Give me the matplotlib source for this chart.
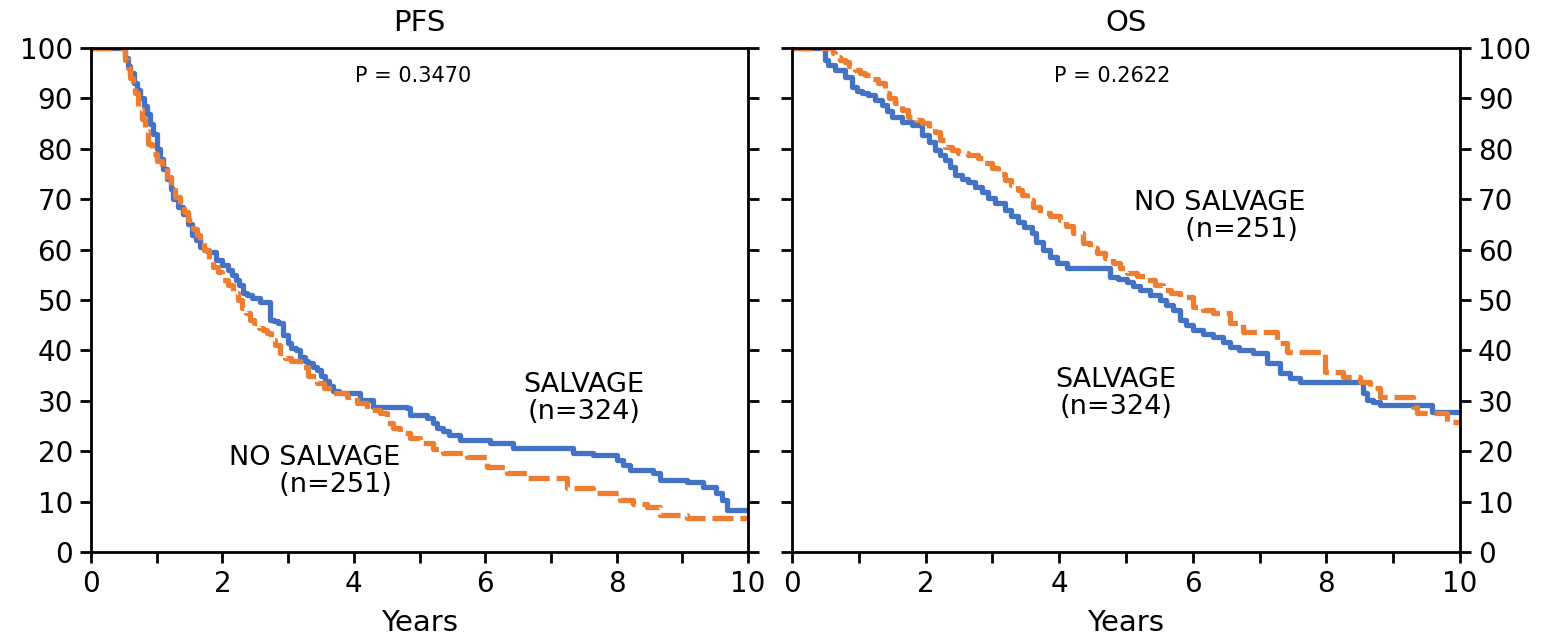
import matplotlib.pyplot as plt
import numpy as np

# step points (years, % surviving) read per arm
pfs_salvage_t = [0, 0.52, 0.56, 0.6, 0.65, 0.7, 0.75, 0.8, 0.85, 0.9, 0.95, 1.0, 1.05, 1.1, 1.16,
                 1.21, 1.25, 1.32, 1.4, 1.47, 1.54, 1.6, 1.66, 1.72, 1.78, 1.9, 2.0, 2.08, 2.14,
                 2.2, 2.25, 2.31, 2.38, 2.45, 2.57, 2.72, 2.78, 2.85, 2.92, 3.0, 3.05, 3.12, 3.18,
                 3.25, 3.3, 3.38, 3.44, 3.5, 3.56, 3.62, 3.68, 3.78, 3.9, 4.09, 4.29, 4.81, 4.86,
                 5.11, 5.2, 5.27, 5.35, 5.45, 5.62, 6.07, 6.42, 7.34, 7.64, 8.0, 8.1, 8.2, 8.55,
                 8.66, 9.07, 9.32, 9.52, 9.6, 9.68, 10]
pfs_salvage_s = [100, 98, 96.5, 95, 93, 91.7, 90, 88.5, 87, 85, 83, 80, 78, 76, 74,
                 72, 70, 68.5, 67, 65, 63, 62, 60.5, 60, 59.5, 58, 57, 56, 55,
                 54, 53, 51.4, 51, 50.5, 49.6, 46, 45.8, 45.4, 43, 41.5, 40.5, 40, 38.7,
                 38, 37.5, 36.8, 36.1, 35, 34, 33, 32, 31.6, 31.5, 30.2, 28.8, 28.6, 27.2,
                 26.6, 25.6, 24.6, 24, 23.2, 22.2, 21.6, 20.6, 19.6, 19.2, 18.3, 17.3, 16.3, 15.7,
                 14.3, 13.9, 12.9, 11.7, 10.3, 8.3, 8.3]

pfs_nosalv_t = [0, 0.52, 0.56, 0.6, 0.64, 0.67, 0.72, 0.78, 0.82, 0.87, 0.93, 1.0, 1.08, 1.15,
                1.22, 1.28, 1.35, 1.42, 1.48, 1.55, 1.62, 1.66, 1.72, 1.8, 1.86, 1.93, 2.0, 2.08,
                2.16, 2.23, 2.3, 2.36, 2.42, 2.48, 2.55, 2.62, 2.68, 2.74, 2.8, 2.88, 2.96, 3.05,
                3.18, 3.3, 3.44, 3.55, 3.68, 3.9, 4.05, 4.2, 4.4, 4.5, 4.6, 4.7, 4.85, 5.0,
                5.2, 5.36, 5.72, 6.03, 6.33, 6.64, 7.24, 7.64, 8.05, 8.25, 8.46, 8.66, 9.07, 10]
pfs_nosalv_s = [100, 97.6, 96, 94, 92.5, 91, 88, 86, 83.5, 81, 79, 77.5, 76.4, 74.5,
                72.5, 70.4, 69, 67.5, 65.9, 64, 63, 61.9, 60, 58, 56.5, 55.5, 54, 53,
                51.4, 50, 48.5, 47.5, 46, 45.5, 44.5, 44, 43.5, 42, 41, 39.5, 38.5, 38,
                36.7, 35, 33.5, 32.5, 31.5, 30.8, 29.6, 28.2, 27.6, 25.6, 24.6, 23.6, 22.6, 21.6,
                20.5, 19.6, 18.9, 16.9, 15.7, 14.7, 12.7, 11.7, 10.3, 9.6, 8.9, 7.3, 6.7, 6.7]

os_salvage_t = [0, 0.49, 0.54, 0.64, 0.79, 0.9, 0.97, 1.05, 1.14, 1.25, 1.35, 1.42, 1.5, 1.65,
                1.8, 1.95, 2.05, 2.14, 2.22, 2.29, 2.36, 2.44, 2.54, 2.63, 2.74, 2.84, 2.94,
                3.04, 3.19, 3.28, 3.38, 3.48, 3.59, 3.66, 3.76, 3.86, 3.97, 4.12, 4.76, 4.88,
                5.01, 5.11, 5.21, 5.36, 5.51, 5.6, 5.7, 5.81, 5.9, 6.0, 6.15, 6.3, 6.45, 6.56,
                6.7, 6.9, 7.11, 7.31, 7.45, 7.6, 8.55, 8.61, 8.7, 8.8, 9.58, 10]
os_salvage_s = [100, 97.6, 96.6, 95.6, 94.2, 92.3, 91.5, 91, 90.7, 89.7, 88.7, 87.5, 86.3, 85.3,
                84.7, 82.7, 81.3, 79.8, 78.8, 77.8, 76.3, 74.8, 74, 73.4, 72.4, 71.4, 70.3,
                69.2, 67.9, 66.7, 65.5, 64.4, 63.3, 61.6, 59.9, 58.6, 57.3, 56.3, 54.6, 54.2,
                53.6, 52.8, 52, 51, 50, 49, 48, 46, 45, 44, 43.3, 42.7, 41.7, 40.7,
                40, 39.5, 37.5, 35.5, 34.6, 33.7, 31.5, 30.2, 29.7, 29.2, 27.8, 27.8]

os_nosalv_t = [0, 0.61, 0.64, 0.72, 0.79, 0.86, 0.94, 1.02, 1.09, 1.2, 1.29, 1.39, 1.46, 1.54,
               1.64, 1.74, 1.85, 1.95, 2.05, 2.14, 2.22, 2.29, 2.39, 2.49, 2.63, 2.78, 2.88,
               2.99, 3.09, 3.19, 3.28, 3.38, 3.45, 3.52, 3.61, 3.71, 3.86, 4.01, 4.11, 4.21,
               4.36, 4.46, 4.57, 4.69, 4.81, 4.91, 5.01, 5.16, 5.31, 5.43, 5.55, 5.68, 5.81,
               6.0, 6.15, 6.3, 6.56, 6.75, 7.26, 7.41, 7.98, 8.25, 8.5, 8.65, 8.8, 9.3,
               9.36, 9.8, 10]
os_nosalv_s = [100, 99, 98.2, 97.7, 97.2, 96.4, 95.6, 95.1, 94.6, 93.8, 93, 91, 90, 89.1,
               87.7, 86.3, 85.7, 85.1, 84.2, 83.3, 81.8, 80.4, 79.8, 79.2, 78.7, 78.2, 77.2,
               76.2, 75, 73.8, 72.8, 71.8, 70.8, 69.8, 68.5, 67.3, 66.6, 65.9, 64.6, 63.3,
               61.3, 60.3, 59.3, 58.3, 57.3, 56.3, 55.4, 54.7, 54, 53, 52, 51.3, 50.6,
               48.6, 48, 47.4, 45.4, 43.7, 41.5, 39.7, 35.7, 34.7, 33.7, 32.5, 30.8, 28.8,
               27.6, 25.8, 25.8]

blue = "#4472C4"
orange = "#ED7D31"

fig = plt.figure(figsize=(15.48, 6.36), dpi=100)
ax1 = fig.add_axes([0.0588, 0.132, 0.4244, 0.7925])
ax2 = fig.add_axes([0.5116, 0.132, 0.4315, 0.7925])


def style_axis(ax, label_side):
    ax.set_xlim(0, 10)
    ax.set_ylim(0, 100)
    ax.set_xticks(np.arange(0, 11, 2))
    ax.set_xticks(np.arange(1, 10, 2), minor=True)
    ax.set_yticks(np.arange(0, 101, 10))
    for s in ax.spines.values():
        s.set_linewidth(2.0)
        s.set_color("black")
    ax.tick_params(which="both", direction="out", length=8, width=2.0,
                   labelsize=20, pad=5, left=True, right=True)
    ax.tick_params(axis="y", labelleft=(label_side == "left"),
                   labelright=(label_side == "right"))
    ax.set_xlabel("Years", fontsize=21, labelpad=8)


ax1.step(pfs_salvage_t, pfs_salvage_s, where="post", color=blue, lw=3.8)
ax1.step(pfs_nosalv_t, pfs_nosalv_s, where="post", color=orange, lw=3.8,
         dashes=(4, 1.3))
style_axis(ax1, "left")
ax1.set_title("PFS", fontsize=21, pad=12)
ax1.text(4.9, 94.5, "P = 0.3470", fontsize=15, ha="center", va="center")
ax1.text(7.5, 30.5, "SALVAGE\n(n=324)", fontsize=19.5, ha="center", va="center",
         linespacing=1.05)
ax1.text(3.4, 16, "NO SALVAGE\n     (n=251)", fontsize=19.5, ha="center", va="center",
         linespacing=1.05)

ax2.step(os_salvage_t, os_salvage_s, where="post", color=blue, lw=3.8)
ax2.step(os_nosalv_t, os_nosalv_s, where="post", color=orange, lw=3.8,
         dashes=(4, 1.3))
style_axis(ax2, "right")
ax2.set_title("OS", fontsize=21, pad=12)
ax2.text(4.8, 94.5, "P = 0.2622", fontsize=15, ha="center", va="center")
ax2.text(6.4, 66.5, "NO SALVAGE\n     (n=251)", fontsize=19.5, ha="center", va="center",
         linespacing=1.05)
ax2.text(4.85, 31.5, "SALVAGE\n(n=324)", fontsize=19.5, ha="center", va="center",
         linespacing=1.05)

fig.savefig("out.png", dpi=100)
